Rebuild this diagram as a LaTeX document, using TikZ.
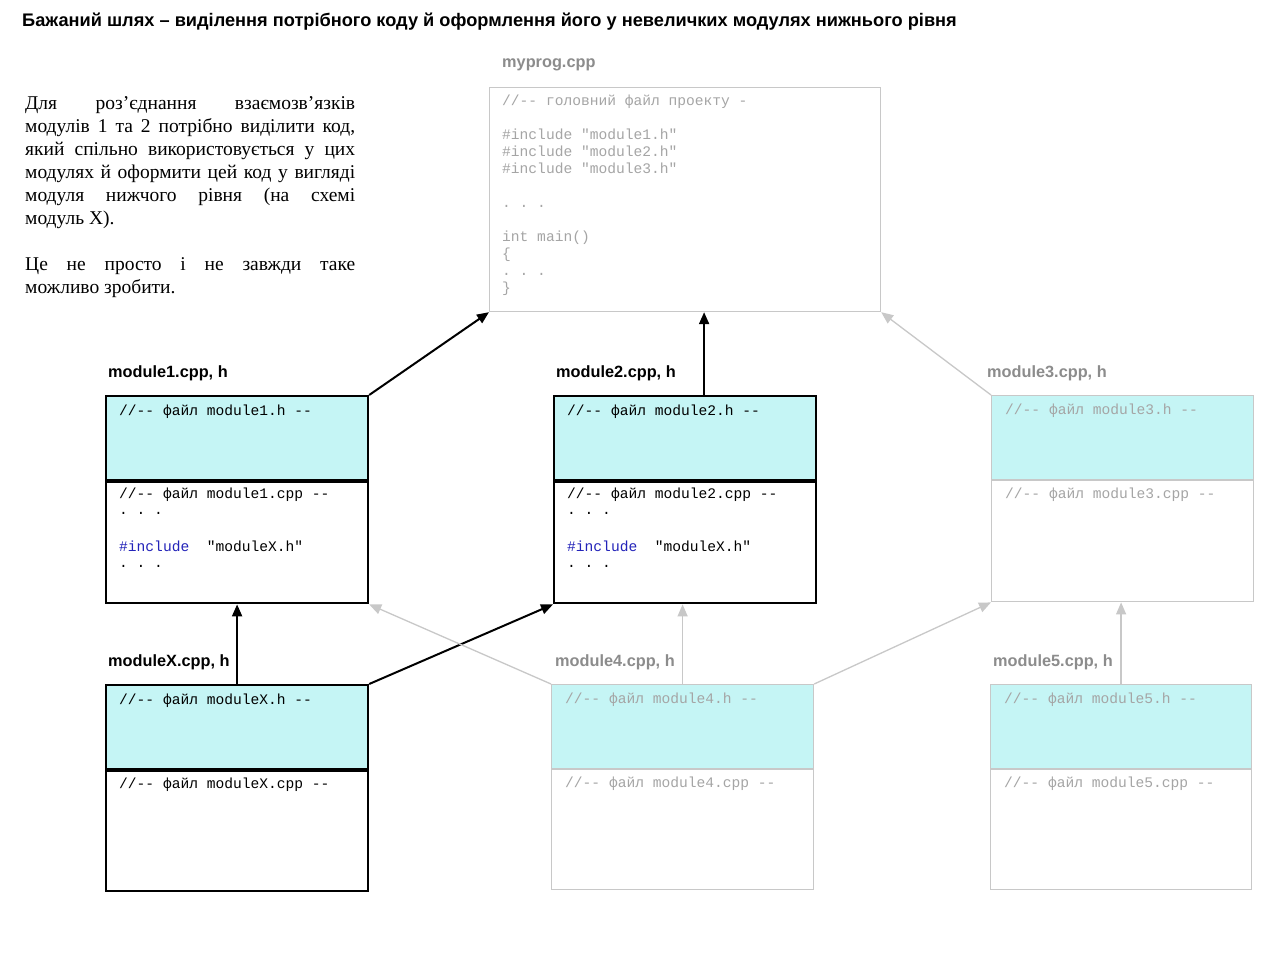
\documentclass[tikz,border=0pt]{standalone}
\usepackage{fontspec}
\setmainfont{Liberation Serif}
\setsansfont{Liberation Sans}
\setmonofont{Liberation Mono}
\usetikzlibrary{arrows.meta,calc}
\definecolor{cyanf}{RGB}{197,245,245}
\definecolor{gline}{RGB}{200,200,200}
\definecolor{gtext}{RGB}{165,165,165}
\definecolor{glabel}{RGB}{140,140,140}
\definecolor{incblue}{RGB}{35,35,185}
\tikzset{
  blkbox/.style={draw=black, line width=2.2pt, inner sep=0pt, minimum width=262pt},
  grybox/.style={draw=gline, line width=1.2pt, inner sep=0pt, minimum width=262pt},
  hdr/.style={fill=cyanf, minimum height=84pt},
  body/.style={fill=white, minimum height=121pt},
  code/.style={font=\ttfamily\fontsize{14.6}{16}\selectfont, inner sep=0pt, align=left},
  gcode/.style={code, text=gtext},
  lbl/.style={font=\sffamily\bfseries\fontsize{16.3}{18}\selectfont, inner sep=0pt},
  glbl/.style={lbl, text=glabel},
  blkarr/.style={line width=2pt, -{Triangle[length=12pt,width=10pt]}},
  gryarr/.style={draw=gline, line width=1.3pt, -{Triangle[length=12pt,width=10pt]}},
}
\begin{document}
\begin{tikzpicture}[x=1pt,y=-1pt]
\useasboundingbox[fill=white] (0,0) rectangle (1280,955);

% title
\node[anchor=west, inner sep=0pt, font=\sffamily\bfseries\fontsize{18.2}{21}\selectfont] (title) at (22,22)
  {Бажаний шлях – виділення потрібного коду й оформлення його у невеличких модулях нижнього рівня};

% paragraph
\node[anchor=north west, inner sep=0pt, text width=330pt, align=justify,
      font=\fontsize{19.5}{23}\selectfont] (txt) at (25,96)
  {Для роз’єднання взаємозв’язків\linebreak
   модулів 1 та 2 потрібно виділити код,\linebreak
   який спільно використовується у цих\linebreak
   модулях й оформити цей код у вигляді\linebreak
   модуля нижчого рівня (на схемі\linebreak
   модуль X).\par\vspace{23pt}
   Це не просто і не завжди таке\linebreak
   можливо зробити.};

% myprog
\node[glbl, anchor=west] (mylbl) at (502,65) {myprog.cpp};
\node[draw=gline, line width=1.2pt, inner sep=0pt, minimum width=391pt, minimum height=224pt,
      anchor=north west] (my) at (489,87) {};
\node[gcode, anchor=north west, font=\ttfamily\fontsize{14.6}{17}\selectfont] (mytxt) at (502,95)
  {//-- головний файл проекту -\\[17pt]
   \#include "module1.h"\\
   \#include "module2.h"\\
   \#include "module3.h"\\[17pt]
   .~.~.\\[17pt]
   int main()\\
   \{\\
   .~.~.\\
   \}};

% module1
\node[lbl, anchor=west] (l1) at (108,373) {module1.cpp, h};
\node[blkbox, hdr, anchor=north west] (m1h) at (105,395) {};
\node[blkbox, body, anchor=north west] (m1c) at (m1h.south west) {};
\node[code, anchor=base west] (t1h) at (119,415) {//-- файл module1.h --};
\node[code, anchor=north west] (t1c) at (119,488)
  {//-- файл module1.cpp --\\
   .~.~.\\[21pt]
   \textcolor{incblue}{\#include}~~"moduleX.h"\\
   .~.~.};

% module2
\node[lbl, anchor=west] (l2) at (556,373) {module2.cpp, h};
\node[blkbox, hdr, anchor=north west] (m2h) at (553,395) {};
\node[blkbox, body, anchor=north west] (m2c) at (m2h.south west) {};
\node[code, anchor=base west] (t2h) at (567,415) {//-- файл module2.h --};
\node[code, anchor=north west] (t2c) at (567,488)
  {//-- файл module2.cpp --\\
   .~.~.\\[21pt]
   \textcolor{incblue}{\#include}~~"moduleX.h"\\
   .~.~.};

% module3
\node[glbl, anchor=west] (l3) at (987,373) {module3.cpp, h};
\node[grybox, hdr, anchor=north west] (m3h) at (991,395) {};
\node[grybox, body, anchor=north west] (m3c) at (m3h.south west) {};
\node[gcode, anchor=base west] (t3h) at (1005,414) {//-- файл module3.h --};
\node[gcode, anchor=base west] (t3c) at (1005,498) {//-- файл module3.cpp --};

% moduleX
\node[lbl, anchor=west] (lx) at (108,662) {moduleX.cpp, h};
\node[blkbox, hdr, anchor=north west] (mxh) at (105,684) {};
\node[blkbox, body, minimum height=120pt, anchor=north west] (mxc) at (mxh.south west) {};
\node[code, anchor=base west] (txh) at (119,704) {//-- файл moduleX.h --};
\node[code, anchor=base west] (txc) at (119,788) {//-- файл moduleX.cpp --};

% module4
\node[glbl, anchor=west] (l4) at (555,662) {module4.cpp, h};
\node[grybox, hdr, anchor=north west] (m4h) at (551,684) {};
\node[grybox, body, minimum height=120pt, anchor=north west] (m4c) at (m4h.south west) {};
\node[gcode, anchor=base west] (t4h) at (565,703) {//-- файл module4.h --};
\node[gcode, anchor=base west] (t4c) at (565,787) {//-- файл module4.cpp --};

% module5
\node[glbl, anchor=west] (l5) at (993,662) {module5.cpp, h};
\node[grybox, hdr, minimum width=261pt, anchor=north west] (m5h) at (990,684) {};
\node[grybox, body, minimum width=261pt, minimum height=120pt, anchor=north west] (m5c) at (m5h.south west) {};
\node[gcode, anchor=base west] (t5h) at (1004,703) {//-- файл module5.h --};
\node[gcode, anchor=base west] (t5c) at (1004,787) {//-- файл module5.cpp --};

% arrows
\draw[blkarr] (m1h.north east) -- (my.south west);
\draw[blkarr] ([xshift=19pt]m2h.north) -- ([xshift=19pt]m2h.north |- my.south);
\draw[gryarr] (m3h.north west) -- (my.south east);
\draw[blkarr] (mxh.north) -- (m1c.south);
\draw[blkarr] (mxh.north east) -- (m2c.south west);
\draw[gryarr] (m4h.north west) -- (m1c.south east);
\draw[gryarr] (m4h.north) -- (m4h.north |- m2c.south);
\draw[gryarr] (m4h.north east) -- (m3c.south west);
\draw[gryarr] (m5h.north) -- (m5h.north |- m3c.south);
\end{tikzpicture}
\end{document}
